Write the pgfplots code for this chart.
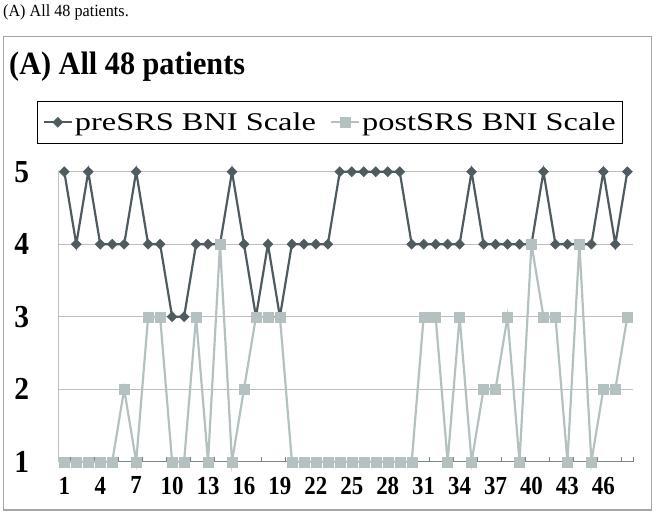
\documentclass[border=0pt]{standalone}
\usepackage{pgfplots}
\usepackage{pgfplotstable}
\pgfplotsset{compat=1.18}
\usepackage{fontspec}
\setmainfont{Liberation Serif}
\newfontfamily\fcap{Liberation Serif}[FakeStretch=0.95]
\newfontfamily\ftitle{Liberation Serif}[FakeStretch=0.93]
\newfontfamily\fleg{Liberation Serif}[FakeStretch=1.27]
\newfontfamily\fytick{Liberation Serif}[FakeStretch=0.92]
\newfontfamily\fxtick{Liberation Serif}[FakeStretch=0.88]
\definecolor{precol}{RGB}{80,91,95}
\definecolor{postcol}{RGB}{181,193,193}
\definecolor{gridgray}{RGB}{190,190,190}
\definecolor{axisgray}{RGB}{125,134,134}
\definecolor{framegray}{RGB}{166,166,166}

\pgfplotstableread{
x pre post
1 5 1
2 4 1
3 5 1
4 4 1
5 4 1
6 4 2
7 5 1
8 4 3
9 4 3
10 3 1
11 3 1
12 4 3
13 4 1
14 4 4
15 5 1
16 4 2
17 3 3
18 4 3
19 3 3
20 4 1
21 4 1
22 4 1
23 4 1
24 5 1
25 5 1
26 5 1
27 5 1
28 5 1
29 5 1
30 4 1
31 4 3
32 4 3
33 4 1
34 4 3
35 5 1
36 4 2
37 4 2
38 4 3
39 4 1
40 4 4
41 5 3
42 4 3
43 4 1
44 4 4
45 4 1
46 5 2
47 4 2
48 5 3
}\datatable

\begin{document}
\begin{tikzpicture}
\path[use as bounding box] (0,0) rectangle (660bp,517bp);
% caption above the chart
\node[anchor=base west, inner sep=0pt, font=\fcap\fontsize{17bp}{20bp}\selectfont] at (3bp,500.5bp) {(A) All 48 patients.};
% chart area frame
\draw[framegray, line width=1.5bp] (3.5bp,6.8bp) rectangle (651.7bp,480.3bp);
% title
\node[anchor=base west, inner sep=0pt, font=\ftitle\bfseries\fontsize{32.5bp}{38bp}\selectfont] at (9bp,442bp) {(A) All 48 patients};
\begin{axis}[
  at={(58.3bp,55.3bp)}, anchor=south west,
  scale only axis, width=575bp, height=290bp,
  xmin=0.5, xmax=48.5, ymin=1, ymax=5,
  clip=false,
  axis x line*=bottom, axis y line*=left,
  x axis line style={draw=axisgray, line width=1.2bp, -},
  y axis line style={draw=gridgray, line width=1bp, -},
  xtick={1,4,...,46}, ytick={1,2,3,4,5},
  minor xtick={1.5,3.5,...,47.5,48.5},
  major tick length=0pt, minor tick length=5bp, tick align=inside,
  minor tick style={draw=axisgray, line width=1bp},
  ymajorgrids, major grid style={draw=gridgray, line width=1bp},
  /pgf/number format/assume math mode=true,
  xticklabel style={font=\fxtick\bfseries\fontsize{26bp}{30bp}\selectfont, inner sep=0pt, anchor=north, yshift=-15bp},
  yticklabel style={font=\fytick\bfseries\fontsize{32bp}{36bp}\selectfont, inner sep=0pt, anchor=east, xshift=-29bp},
  legend columns=2,
  legend style={at={(-0.0365,1.2438)}, anchor=north west, draw=black, line width=0.8bp,
    inner xsep=5bp, inner ysep=9.3bp,
    font=\fleg\fontsize{25.5bp}{30bp}\selectfont,
    nodes={inner sep=2bp},
    /tikz/every even column/.append style={column sep=12bp}},
  legend image code/.code={\draw[mark repeat=2,mark phase=2,#1] plot coordinates {(0bp,0bp) (14bp,0bp) (28bp,0bp)};},
]
\addplot[color=precol, line width=2.2bp, mark=diamond*, mark size=5bp,
  mark options={solid, fill=precol, draw=precol, xscale=1.33, line width=0.5bp}]
  table[x=x, y=pre] {\datatable};
\addlegendentry{preSRS BNI Scale}
\addplot[color=postcol, line width=2.2bp, mark=square*, mark size=5bp,
  mark options={solid, fill=postcol, draw=postcol, line width=0.3bp}]
  table[x=x, y=post] {\datatable};
\addlegendentry{postSRS BNI Scale}
\end{axis}
\end{tikzpicture}
\end{document}
